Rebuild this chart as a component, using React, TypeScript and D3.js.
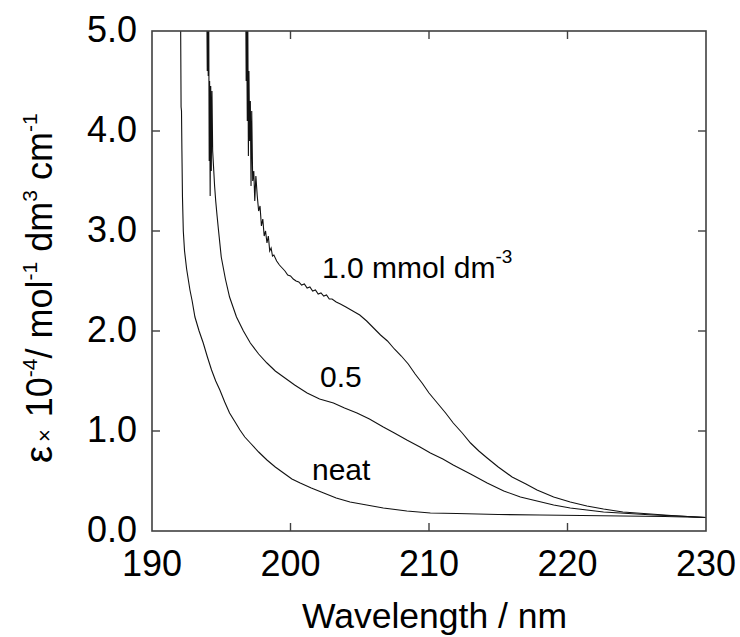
import React from "react";
import * as d3 from "d3";

const X_TICKS = [190, 200, 210, 220, 230];
const Y_TICKS = [0, 1, 2, 3, 4, 5];

// [wavelength nm, epsilon x 1e-4]
const NEAT: [number, number][] = [
  [192.07, 5.0], [192.1, 4.24], [192.13, 4.2], [192.16, 3.8], [192.2, 3.34], [192.26, 3.0], [192.35, 2.8],
  [192.5, 2.62], [192.74, 2.41], [192.9, 2.3], [193.1, 2.14], [193.4, 2.0], [193.7, 1.88],
  [194.0, 1.74], [194.3, 1.61], [194.6, 1.5], [194.9, 1.41], [195.25, 1.29], [195.6, 1.18],
  [196.0, 1.09], [196.35, 1.01], [196.7, 0.94], [197.1, 0.88], [197.7, 0.79], [198.3, 0.71],
  [198.9, 0.64], [199.5, 0.58], [200.1, 0.52], [200.7, 0.48], [201.5, 0.43], [202.4, 0.38],
  [203.3, 0.33], [204.3, 0.29], [205.5, 0.26], [206.7, 0.23], [208.4, 0.2], [210.1, 0.18],
  [212, 0.175], [215, 0.165], [218, 0.16], [221, 0.155], [224, 0.15], [227, 0.145], [230, 0.135],
];

const HALF: [number, number][] = [
  [193.97, 5.0], [193.99, 4.6], [194.02, 5.0], [194.06, 4.55], [194.1, 5.0], [194.13, 3.7],
  [194.16, 4.5], [194.2, 3.35], [194.24, 4.45], [194.28, 3.6], [194.33, 4.4], [194.38, 3.8],
  [194.44, 3.65], [194.52, 3.45], [194.6, 3.3], [194.7, 3.15], [194.8, 3.01], [195.0, 2.74],
  [195.3, 2.52], [195.6, 2.34], [196.1, 2.14], [196.6, 2.0], [197.1, 1.88], [197.7, 1.77],
  [198.3, 1.68], [198.9, 1.6], [199.5, 1.54], [200.3, 1.46], [201.2, 1.38], [202.1, 1.32],
  [203.1, 1.28], [203.9, 1.23], [204.8, 1.18], [205.7, 1.12], [206.7, 1.04], [207.5, 0.98],
  [208.4, 0.91], [209.35, 0.84], [210.1, 0.78], [211.0, 0.72], [211.75, 0.66], [213.0, 0.57],
  [214.2, 0.48], [215.4, 0.4], [216.6, 0.34], [217.8, 0.3], [219.0, 0.26], [220.2, 0.23],
  [221.4, 0.21], [222.6, 0.19], [223.8, 0.18], [226.2, 0.16], [228, 0.15], [230, 0.135],
];

const ONE: [number, number][] = [
  [196.78, 5.0], [196.8, 4.5], [196.84, 5.0], [196.88, 4.1], [196.92, 5.0], [196.96, 3.75],
  [197.0, 4.6], [197.05, 3.9], [197.1, 4.3], [197.15, 3.45], [197.2, 4.2], [197.27, 3.5],
  [197.35, 3.6], [197.42, 3.3], [197.5, 3.55], [197.6, 3.35], [197.7, 3.2], [197.8, 3.25],
  [197.9, 3.05], [198.0, 3.12], [198.1, 2.95], [198.2, 3.0], [198.3, 2.88], [198.4, 2.95],
  [198.5, 2.8], [198.6, 2.83], [198.7, 2.75], [198.8, 2.76], [199.0, 2.7], [199.2, 2.66],
  [199.4, 2.63], [199.6, 2.6], [199.8, 2.56], [200.0, 2.55], [200.2, 2.52], [200.4, 2.5],
  [200.6, 2.49], [200.8, 2.46], [201.0, 2.47], [201.2, 2.43], [201.4, 2.44], [201.6, 2.4],
  [201.8, 2.41], [202.0, 2.37], [202.2, 2.38], [202.4, 2.35], [202.6, 2.36], [202.8, 2.32],
  [203.0, 2.32], [203.3, 2.29], [203.6, 2.27], [204.0, 2.24], [204.5, 2.2], [205.0, 2.16],
  [205.5, 2.1], [206.0, 2.03], [206.5, 1.96], [207.0, 1.9], [207.5, 1.82], [208.0, 1.75],
  [208.5, 1.67], [209.0, 1.57], [209.5, 1.48], [210.0, 1.38], [210.6, 1.28], [211.2, 1.18],
  [211.75, 1.08], [212.4, 0.98], [213.0, 0.88], [213.6, 0.8], [214.2, 0.73], [215.0, 0.64],
  [216.0, 0.54], [217.0, 0.47], [217.8, 0.41], [219.0, 0.34], [220.2, 0.29], [221.4, 0.25],
  [222.6, 0.22], [224.0, 0.19], [225.0, 0.18], [226.5, 0.165], [228, 0.15], [230, 0.135],
];

const SERIES = [NEAT, HALF, ONE];

const FONT = '"Liberation Sans", Arial, Helvetica, sans-serif';

export default function App() {
  const left = 152, right = 706, top = 31, bottom = 531;
  const x = d3.scaleLinear().domain([190, 230]).range([left, right]);
  const y = d3.scaleLinear().domain([0, 5]).range([bottom, top]);
  const line = d3.line<[number, number]>().x((d) => x(d[0])).y((d) => y(d[1]));
  const tl = 8;
  const axisColor = "#404040";

  return (
    <svg
      width={740}
      height={637}
      style={{ position: "absolute", left: 0, top: 0, background: "#fff" }}
      fontFamily={FONT}
    >
      <defs>
        <clipPath id="plotclip">
          <rect x={left} y={top} width={right - left} height={bottom - top} />
        </clipPath>
      </defs>
      <g clipPath="url(#plotclip)">
        {SERIES.map((s, i) => (
          <path key={i} d={line(s) || ""} fill="none" stroke="#111" strokeWidth={1.1} />
        ))}
      </g>
      <rect x={left} y={top} width={right - left} height={bottom - top} fill="none" stroke={axisColor} strokeWidth={1.6} />
      {X_TICKS.slice(1, -1).map((t) => (
        <g key={"x" + t}>
          <line x1={x(t)} x2={x(t)} y1={bottom} y2={bottom - tl} stroke={axisColor} strokeWidth={1.4} />
          <line x1={x(t)} x2={x(t)} y1={top} y2={top + tl} stroke={axisColor} strokeWidth={1.4} />
        </g>
      ))}
      {Y_TICKS.slice(1, -1).map((t) => (
        <g key={"y" + t}>
          <line x1={left} x2={left + tl} y1={y(t)} y2={y(t)} stroke={axisColor} strokeWidth={1.4} />
          <line x1={right} x2={right - tl} y1={y(t)} y2={y(t)} stroke={axisColor} strokeWidth={1.4} />
        </g>
      ))}
      {X_TICKS.map((t) => (
        <text key={"xl" + t} x={x(t)} y={bottom + 45} textAnchor="middle" fontSize={36} fill="#000">
          {t}
        </text>
      ))}
      {Y_TICKS.map((t) => (
        <text key={"yl" + t} x={137} y={y(t) + 11} textAnchor="end" fontSize={36} fill="#000">
          {d3.format(".1f")(t)}
        </text>
      ))}
      <text x={302} y={628} fontSize={35.5} fill="#000">Wavelength / nm</text>
      <text transform="translate(52,463) rotate(-90)" fontSize={36} fill="#000">
        <tspan fontSize={38}>ε</tspan>
        <tspan fontSize={22} dx={4}>×</tspan>
        <tspan dx={12}>10</tspan>
        <tspan fontSize={21} dy={-15}>-4</tspan>
        <tspan dy={15}>/ mol</tspan>
        <tspan fontSize={21} dy={-15}>-1</tspan>
        <tspan dy={15}> dm</tspan>
        <tspan fontSize={21} dy={-15}>3</tspan>
        <tspan dy={15}> cm</tspan>
        <tspan fontSize={21} dy={-15}>-1</tspan>
      </text>
      <text x={322} y={278} fontSize={30} fill="#000">
        1.0 mmol dm<tspan fontSize={19} dy={-15}>-3</tspan>
      </text>
      <text x={320} y={387} fontSize={30} fill="#000">0.5</text>
      <text x={312} y={480} fontSize={30} fill="#000">neat</text>
    </svg>
  );
}
